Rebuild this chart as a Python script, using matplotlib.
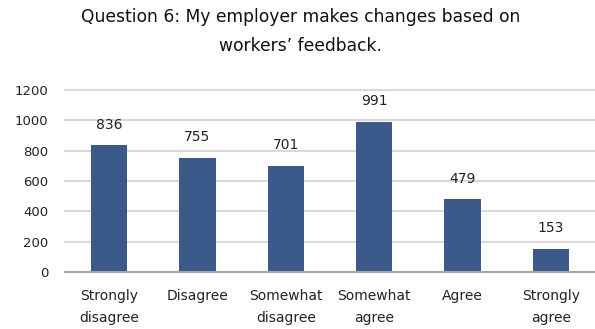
import matplotlib.pyplot as plt

plt.rcParams['font.family'] = ['DejaVu Sans']

categories = ["Strongly\ndisagree", "Disagree", "Somewhat\ndisagree",
              "Somewhat\nagree", "Agree", "Strongly\nagree"]
responses = [836, 755, 701, 991, 479, 153]
yticks = [0, 200, 400, 600, 800, 1000, 1200]
title = "Question 6: My employer makes changes based on\nworkers\u02bc feedback."

bar_color = "#3b5a89"
grid_color = "#d9d9d9"

fig = plt.figure(figsize=(5.95, 3.29), dpi=100)
ax = fig.add_axes([0.109, 0.173, 0.891, 0.553])

x = range(len(categories))
bars = ax.bar(x, responses, width=0.41, color=bar_color, zorder=3)
for rect, val in zip(bars, responses):
    ax.annotate(str(val), (rect.get_x() + rect.get_width() / 2, val),
                xytext=(0, 15), textcoords="offset points",
                ha="center", va="center", fontsize=10, color="#222222")

ax.set_xlim(-0.5, len(categories) - 0.5)
ax.set_ylim(0, 1200)
ax.set_yticks(yticks)
ax.set_yticklabels([str(v) for v in yticks])
ax.set_xticks(list(x))
ax.set_xticklabels(categories, linespacing=1.75)

ax.grid(axis="y", color=grid_color, linewidth=1.5, zorder=0)
for line in ax.get_ygridlines():
    line.set_clip_on(False)
ax.tick_params(axis="y", length=0, pad=12, labelsize=9.5, labelcolor="#222222")
ax.tick_params(axis="x", length=0, pad=12, labelsize=10, labelcolor="#222222")
for side in ("top", "right", "left"):
    ax.spines[side].set_visible(False)
ax.spines["bottom"].set_color("#a6a6a6")
ax.spines["bottom"].set_linewidth(1.5)
ax.spines["bottom"].set_zorder(4)

fig.text(0.505, 0.905, title, ha="center", va="center", fontsize=12.3,
         linespacing=1.75, color="#111111")

fig.savefig("out.png", dpi=100)
